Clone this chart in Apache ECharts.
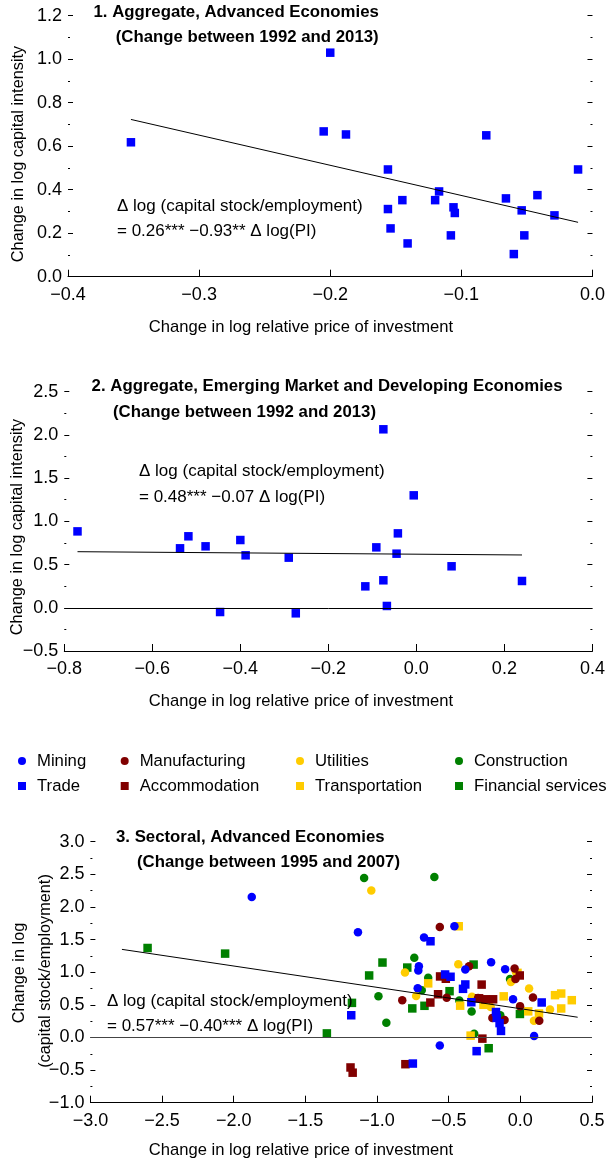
<!DOCTYPE html>
<html>
<head>
<meta charset="utf-8">
<script src="https://cdn.jsdelivr.net/npm/echarts@6/dist/echarts.min.js"></script>
<style>
  html, body { margin: 0; padding: 0; background: #fff; }
  #chart { width: 608px; height: 1162px; }
</style>
</head>
<body>
<div id="chart"></div>
<script>
// panel 1: aggregate, advanced economies [d log PI, d log K/L]
const aggAdvanced = [
  [-0.352, 0.618], [-0.200, 1.030], [-0.205, 0.668], [-0.188, 0.654], [-0.156, 0.493],
  [-0.156, 0.311], [-0.154, 0.222], [-0.145, 0.352], [-0.141, 0.153], [-0.120, 0.352],
  [-0.117, 0.392], [-0.108, 0.190], [-0.106, 0.319], [-0.105, 0.293], [-0.081, 0.650],
  [-0.066, 0.360], [-0.060, 0.104], [-0.054, 0.305], [-0.052, 0.190], [-0.042, 0.375],
  [-0.029, 0.282], [-0.011, 0.493]
];
const aggAdvancedFit = [[-0.352, 0.723], [-0.011, 0.250]];

// panel 2: aggregate, EMDEs
const aggEmerging = [
  [-0.770, 0.884], [-0.537, 0.688], [-0.518, 0.827], [-0.479, 0.711], [-0.446, -0.049],
  [-0.400, 0.784], [-0.388, 0.607], [-0.290, 0.580], [-0.274, -0.064], [-0.116, 0.248],
  [-0.091, 0.699], [-0.075, 2.065], [-0.075, 0.318], [-0.067, 0.021], [-0.045, 0.626],
  [-0.042, 0.861], [-0.006, 1.301], [0.080, 0.480], [0.240, 0.310]
];
const aggEmergingFit = [[-0.770, 0.649], [0.240, 0.611]];

// panel 3: sectoral, advanced economies
const mining = [
  [-1.874, 2.153], [-1.133, 1.612], [-0.672, 1.531], [-0.708, 1.090], [-0.712, 1.025],
  [-0.716, 0.755], [-0.460, 1.704], [-0.562, -0.125], [-0.384, 1.041], [-0.204, 1.153],
  [-0.106, 1.045], [-0.051, 0.587], [0.096, 0.024]
];
const trade = [
  [-1.180, 0.340], [-0.750, -0.400], [-0.627, 1.474], [-0.525, 0.965], [-0.487, 0.930],
  [-0.384, 0.812], [-0.400, 0.745], [-0.342, 0.540], [-0.170, 0.390], [-0.165, 0.300],
  [-0.145, 0.220], [-0.135, 0.100], [-0.305, -0.210], [0.149, 0.536]
];
const manufacturing = [
  [-0.824, 0.570], [-0.562, 1.694], [-0.358, 1.090], [-0.514, 0.610], [-0.295, 0.606],
  [-0.195, 0.300], [-0.110, 0.268], [-0.040, 1.058], [-0.034, 0.896], [-0.002, 0.480],
  [0.088, 0.612], [0.132, 0.255]
];
const accommodation = [
  [-1.185, -0.460], [-1.170, -0.540], [-0.802, -0.410], [-0.560, 0.935], [-0.520, 0.900],
  [-0.628, 0.535], [-0.574, 0.662], [-0.270, 0.810], [-0.288, 0.600], [-0.244, 0.585],
  [-0.190, 0.585], [-0.265, -0.018], [-0.004, 0.950]
];
const utilities = [
  [-1.040, 2.252], [-0.805, 0.995], [-0.727, 0.635], [-0.433, 1.122], [-0.338, 0.625],
  [-0.207, 0.465], [-0.066, 0.848], [-0.030, 1.000], [0.061, 0.750], [0.207, 0.430],
  [0.095, 0.255]
];
const transportation = [
  [-0.430, 1.704], [-0.643, 0.829], [-0.420, 0.487], [-0.347, 0.028], [-0.257, 0.500],
  [-0.116, 0.630], [0.055, 0.400], [0.130, 0.367], [0.242, 0.648], [0.285, 0.673],
  [0.285, 0.444], [0.359, 0.571], [-0.020, 0.990]
];
const construction = [
  [-1.090, 2.445], [-0.600, 2.460], [-0.740, 1.220], [-0.643, 0.915], [-0.990, 0.633],
  [-0.935, 0.224], [-0.688, 0.724], [-0.426, 0.566], [-0.340, 0.398], [-0.322, 0.055],
  [-0.072, 0.895], [-0.140, 0.340]
];
const financial = [
  [-2.601, 1.371], [-2.060, 1.285], [-1.350, 0.062], [-1.175, 0.530], [-1.055, 0.950],
  [-0.962, 1.148], [-0.789, 1.071], [-0.754, 0.445], [-0.669, 0.485], [-0.494, 0.709],
  [-0.326, 1.117], [-0.221, -0.165], [-0.003, 0.360]
];
const sectoralFit = [[-2.78, 1.35], [0.40, 0.31]];

const FONT = "'Liberation Sans', Arial, sans-serif";

function fmt(v) {
  if (Math.abs(v) < 1e-9) return '0.0';
  return (v < 0 ? '\u2212' : '') + Math.abs(v).toFixed(1);
}

function xAxisFor(grid, min, max, interval) {
  return {
    gridIndex: grid, type: 'value', min: min, max: max, interval: interval,
    axisLine: { show: true, onZero: false, lineStyle: { color: '#000', width: 1 } },
    axisTick: { show: true, inside: true, length: 7, lineStyle: { color: '#000' } },
    axisLabel: { formatter: fmt, color: '#000', fontSize: 18, fontFamily: FONT, margin: 9 },
    splitLine: { show: false }
  };
}

function yAxisFor(grid, min, max, interval, pos) {
  return {
    gridIndex: grid, type: 'value', min: min, max: max, interval: interval, position: pos,
    axisLine: { show: false, onZero: false },
    axisTick: { show: true, inside: true, length: 5, lineStyle: { color: '#000' } },
    minorTick: { show: true, splitNumber: 2, length: 2, lineStyle: { color: '#000' } },
    axisLabel: { show: pos === 'left', formatter: fmt, color: '#000', fontSize: 18, fontFamily: FONT, margin: 6 },
    splitLine: { show: false }
  };
}

function scatter(name, data, color, symbol, xi, yi) {
  return {
    name: name, type: 'scatter', data: data, symbol: symbol, symbolSize: 8.5,
    xAxisIndex: xi, yAxisIndex: yi,
    itemStyle: { color: color, opacity: 1 }
  };
}

function fitLine(data, xi, yi) {
  return {
    type: 'line', data: data, showSymbol: false, symbol: 'none', xAxisIndex: xi, yAxisIndex: yi,
    lineStyle: { color: '#000', width: 1 }, z: 3
  };
}

function zeroLine(color, width) {
  return {
    silent: true, symbol: 'none', label: { show: false },
    lineStyle: { color: color, width: width, type: 'solid' },
    data: [{ yAxis: 0 }]
  };
}

function txt(x, y, text, size, bold, align) {
  return {
    type: 'text', x: x, y: y, z: 100,
    style: {
      text: text, fill: '#000', font: (bold ? 'bold ' : '') + size + 'px ' + FONT,
      textAlign: align || 'left', textVerticalAlign: 'middle'
    }
  };
}

function vtxt(x, y, text) {
  return {
    type: 'text', x: x, y: y, rotation: Math.PI / 2, z: 100,
    style: { text: text, fill: '#000', font: '16.3px ' + FONT, textAlign: 'center', textVerticalAlign: 'middle' }
  };
}

function legendCol(left, names, icons) {
  return {
    orient: 'vertical', left: left, top: 751, padding: 0, itemGap: 5,
    itemWidth: 8, itemHeight: 8,
    data: names.map((n, i) => ({ name: n, icon: icons[i] })),
    textStyle: { color: '#000', fontSize: 16.7, fontFamily: FONT, lineHeight: 20, padding: [0, 0, 0, 6] },
    selectedMode: false
  };
}

const chart = echarts.init(document.getElementById('chart'), null, { renderer: 'canvas' });

const XNAME = 'Change in log relative price of investment';

const option = {
  animation: false,
  backgroundColor: '#fff',
  grid: [
    { left: 68, right: 15, top: 15.7, height: 261 },
    { left: 64.3, right: 15.6, top: 391.7, height: 259.3 },
    { left: 90.4, right: 16, top: 841.7, height: 261 }
  ],
  xAxis: [
    xAxisFor(0, -0.4, 0.0, 0.1),
    xAxisFor(1, -0.8, 0.4, 0.2),
    xAxisFor(2, -3.0, 0.5, 0.5)
  ],
  yAxis: [
    yAxisFor(0, 0, 1.2, 0.2, 'left'),
    yAxisFor(0, 0, 1.2, 0.2, 'right'),
    yAxisFor(1, -0.5, 2.5, 0.5, 'left'),
    yAxisFor(1, -0.5, 2.5, 0.5, 'right'),
    yAxisFor(2, -1.0, 3.0, 0.5, 'left'),
    yAxisFor(2, -1.0, 3.0, 0.5, 'right')
  ],
  legend: [
    legendCol(18, ['Mining', 'Trade'], ['circle', 'rect']),
    legendCol(120.7, ['Manufacturing', 'Accommodation'], ['circle', 'rect']),
    legendCol(296, ['Utilities', 'Transportation'], ['circle', 'rect']),
    legendCol(455, ['Construction', 'Financial services'], ['circle', 'rect'])
  ],
  series: [
    scatter('Aggregate AE', aggAdvanced, '#0000ff', 'rect', 0, 0),
    fitLine(aggAdvancedFit, 0, 0),

    Object.assign(scatter('Aggregate EMDE', aggEmerging, '#0000ff', 'rect', 1, 2),
      { markLine: zeroLine('#000', 1) }),
    fitLine(aggEmergingFit, 1, 2),

    Object.assign(scatter('Financial services', financial, '#008000', 'rect', 2, 4),
      { markLine: zeroLine('#444', 1.2) }),
    scatter('Construction', construction, '#008000', 'circle', 2, 4),
    scatter('Transportation', transportation, '#ffcc00', 'rect', 2, 4),
    scatter('Utilities', utilities, '#ffcc00', 'circle', 2, 4),
    scatter('Accommodation', accommodation, '#800000', 'rect', 2, 4),
    scatter('Manufacturing', manufacturing, '#800000', 'circle', 2, 4),
    scatter('Trade', trade, '#0000ff', 'rect', 2, 4),
    scatter('Mining', mining, '#0000ff', 'circle', 2, 4),
    fitLine(sectoralFit, 2, 4)
  ],
  graphic: [
    txt(93.5, 12.7, '1. Aggregate, Advanced Economies', 16.8, true),
    txt(115.7, 37.3, '(Change between 1992 and 2013)', 16.8, true),
    txt(117, 206, '\u0394 log (capital stock/employment)', 17),
    txt(117, 231.7, '= 0.26*** \u22120.93** \u0394 log(PI)', 17),
    vtxt(18.7, 154, 'Change in log capital intensity'),
    txt(301, 327, XNAME, 16.6, false, 'center'),

    txt(91.6, 386.7, '2. Aggregate, Emerging Market and Developing Economies', 16.8, true),
    txt(113, 412.7, '(Change between 1992 and 2013)', 16.8, true),
    txt(139, 471.7, '\u0394 log (capital stock/employment)', 17),
    txt(139, 497.3, '= 0.48*** \u22120.07 \u0394 log(PI)', 17),
    vtxt(17.5, 527, 'Change in log capital intensity'),
    txt(301, 701.7, XNAME, 16.6, false, 'center'),

    txt(116, 837.3, '3. Sectoral, Advanced Economies', 16.8, true),
    txt(137, 862.7, '(Change between 1995 and 2007)', 16.8, true),
    txt(107, 1001, '\u0394 log (capital stock/employment)', 17),
    txt(107, 1026, '= 0.57*** \u22120.40*** \u0394 log(PI)', 17),
    vtxt(19.5, 973, 'Change in log'),
    vtxt(46, 971, '(capital stock/employment)'),
    txt(301, 1150, XNAME, 16.6, false, 'center')
  ]
};

chart.setOption(option);
</script>
</body>
</html>
